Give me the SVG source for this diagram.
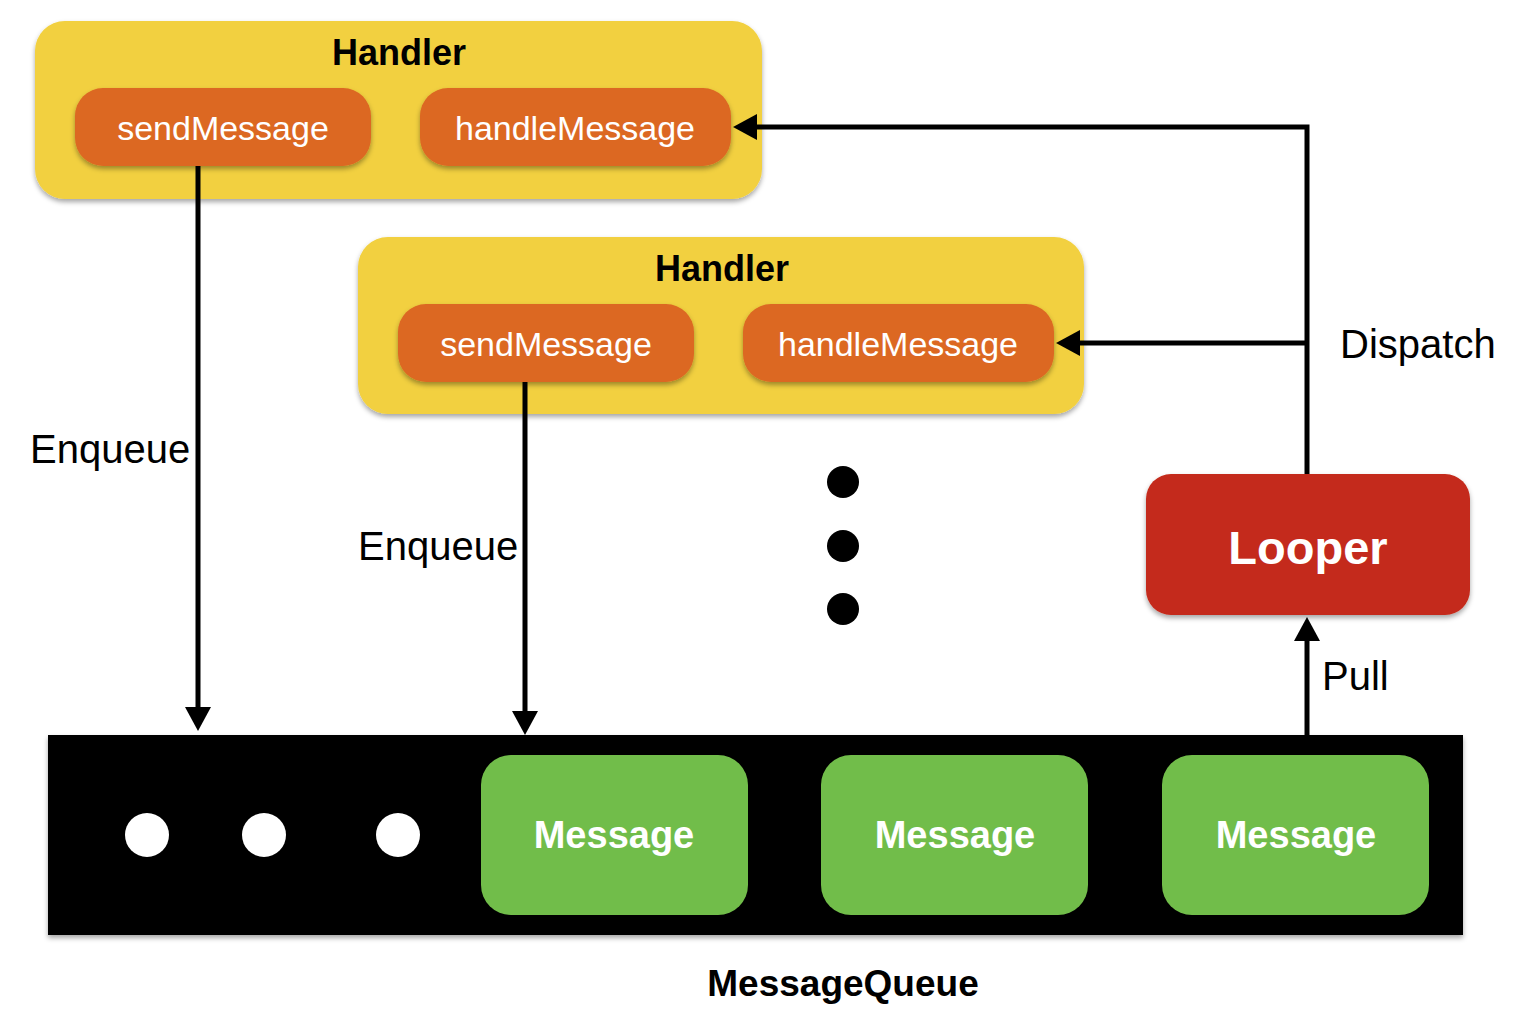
<svg xmlns="http://www.w3.org/2000/svg" width="1530" height="1018" viewBox="0 0 1530 1018">
<style>
.handler{fill:#F2D03F;filter:url(#sh)}
.pill{fill:#DC6823;filter:url(#sh)}
.msg{fill:#71BD4A}
.t{font-family:"Liberation Sans",Arial,sans-serif}
.title{font-size:36px;font-weight:bold;fill:#000}
.pt{font-size:34px;fill:#fff}
.lbl{font-size:40px;fill:#000}
.msgt{font-size:38px;font-weight:bold;fill:#fff}
.conn{fill:none;stroke:#000;stroke-width:5}
</style>
<defs>
<filter id="sh" x="-10%" y="-10%" width="120%" height="130%">
<feDropShadow dx="0" dy="3" stdDeviation="2.5" flood-color="#000" flood-opacity="0.35"/>
</filter>
<marker id="ah" viewBox="0 0 24 26" markerWidth="24" markerHeight="26" markerUnits="userSpaceOnUse" refX="2" refY="13" orient="auto">
<path d="M0,0 L24,13 L0,26 z" fill="#000"/>
</marker>
</defs>
<rect width="1530" height="1018" fill="#fff"/>

<g id="handler1">
<rect class="handler" x="35" y="21" width="727" height="178" rx="30"/>
<text class="t title" x="399" y="65" text-anchor="middle">Handler</text>
<g id="sendMessage1">
<rect class="pill" x="75" y="88" width="296" height="78" rx="28"/>
<text class="t pt" x="223" y="140" text-anchor="middle">sendMessage</text>
</g>
<g id="handleMessage1">
<rect class="pill" x="420" y="88" width="311" height="78" rx="28"/>
<text class="t pt" x="575" y="140" text-anchor="middle">handleMessage</text>
</g>
</g>

<g id="handler2">
<rect class="handler" x="358" y="237" width="726" height="177" rx="30"/>
<text class="t title" x="722" y="281" text-anchor="middle">Handler</text>
<g id="sendMessage2">
<rect class="pill" x="398" y="304" width="296" height="78" rx="28"/>
<text class="t pt" x="546" y="356" text-anchor="middle">sendMessage</text>
</g>
<g id="handleMessage2">
<rect class="pill" x="743" y="304" width="311" height="78" rx="28"/>
<text class="t pt" x="898" y="356" text-anchor="middle">handleMessage</text>
</g>
</g>

<g id="ellipsis">
<circle cx="843" cy="482" r="16" fill="#000"/>
<circle cx="843" cy="546" r="16" fill="#000"/>
<circle cx="843" cy="609" r="16" fill="#000"/>
</g>

<g id="looper">
<rect x="1146" y="474" width="324" height="141" rx="25" fill="#C42A1A" filter="url(#sh)"/>
<text class="t" x="1308" y="564" text-anchor="middle" font-size="47" font-weight="bold" fill="#fff">Looper</text>
</g>

<g id="messageQueue">
<rect x="48" y="735" width="1415" height="200" fill="#000" filter="url(#sh)"/>
<circle cx="147" cy="835" r="22" fill="#fff"/>
<circle cx="264" cy="835" r="22" fill="#fff"/>
<circle cx="398" cy="835" r="22" fill="#fff"/>
<g id="message1">
<rect class="msg" x="481" y="755" width="267" height="160" rx="30"/>
<text class="t msgt" x="614" y="848" text-anchor="middle">Message</text>
</g>
<g id="message2">
<rect class="msg" x="821" y="755" width="267" height="160" rx="30"/>
<text class="t msgt" x="955" y="848" text-anchor="middle">Message</text>
</g>
<g id="message3">
<rect class="msg" x="1162" y="755" width="267" height="160" rx="30"/>
<text class="t msgt" x="1296" y="848" text-anchor="middle">Message</text>
</g>
<text class="t" x="843" y="996" text-anchor="middle" font-size="37" font-weight="bold" fill="#000">MessageQueue</text>
</g>

<g id="connectors">
<path class="conn" d="M198,166 V709" marker-end="url(#ah)"/>
<path class="conn" d="M525,382 V713" marker-end="url(#ah)"/>
<path class="conn" d="M1307,474 V127 H755" marker-end="url(#ah)"/>
<path class="conn" d="M1307,343 H1078" marker-end="url(#ah)"/>
<path class="conn" d="M1307,735 V639" marker-end="url(#ah)"/>
<text class="t lbl" x="30" y="463">Enqueue</text>
<text class="t lbl" x="358" y="560">Enqueue</text>
<text class="t lbl" x="1340" y="358">Dispatch</text>
<text class="t lbl" x="1322" y="690">Pull</text>
</g>
</svg>
